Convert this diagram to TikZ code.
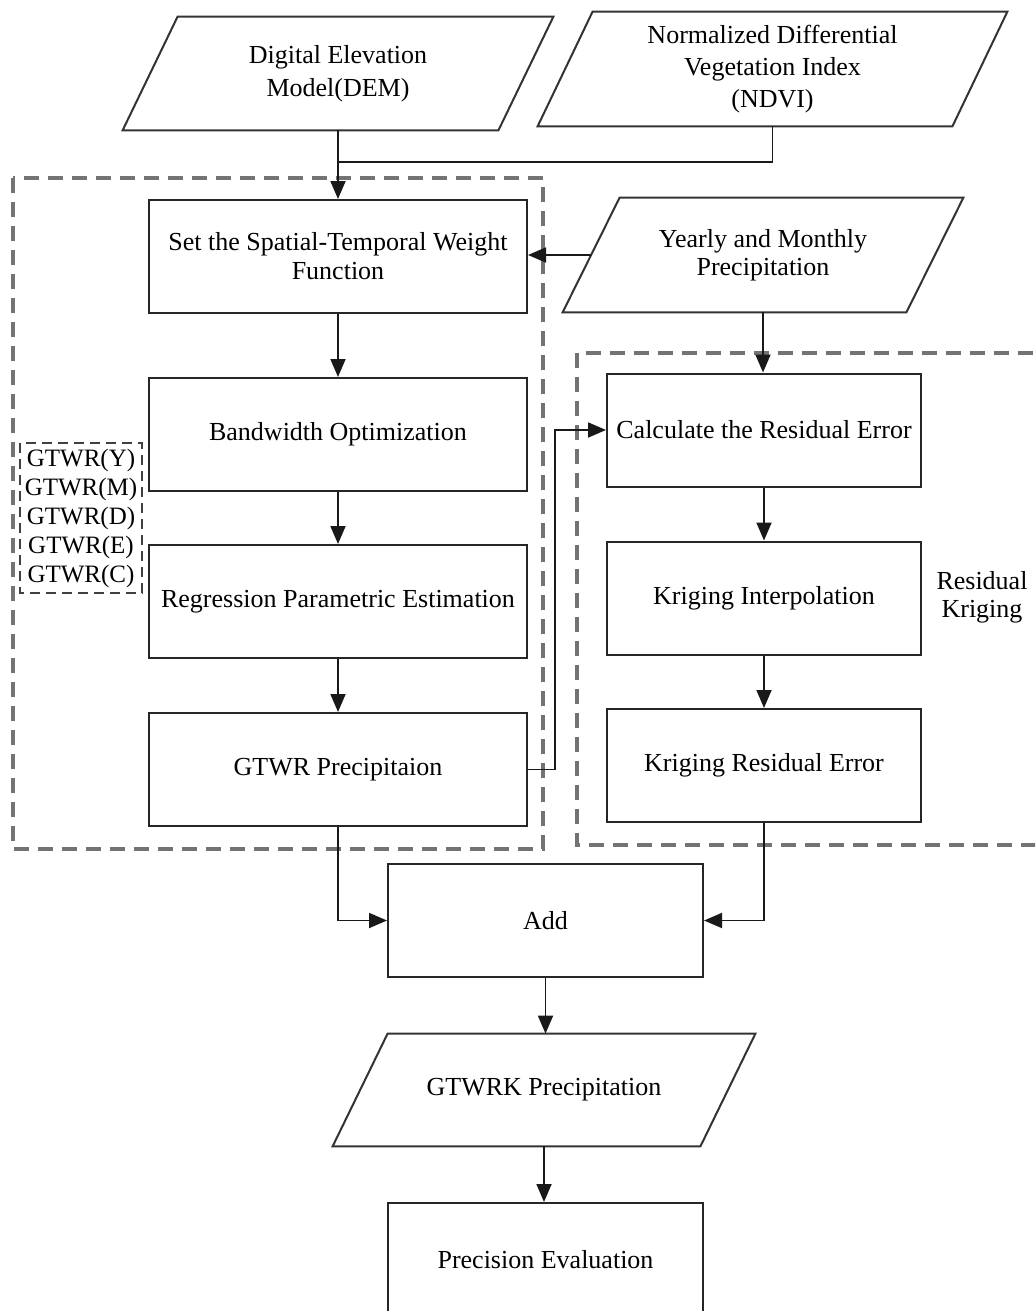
\documentclass[tikz,border=0pt]{standalone}
\usepackage{fontspec}
\setmainfont{Liberation Serif}
\usetikzlibrary{arrows.meta,calc}
\begin{document}
\begin{tikzpicture}[x=0.5pt,y=-0.5pt,
  font=\fontsize{13}{14.5}\selectfont,
  boxstyle/.style={draw=black!85,line width=1pt,minimum width=#1,minimum height=56.5pt,align=center,inner sep=1pt},
  boxstyle/.default=189pt,
  para/.style={draw=none,align=center,inner sep=0pt},
  paraline/.style={draw=black!80,line width=1pt},
  arr/.style={draw=black!90,line width=0.9pt,-{Triangle[length=9pt,width=7.5pt]}},
  conn/.style={draw=black!90,line width=0.9pt},
  bigdash/.style={draw=black!55,line width=1.6pt,dash pattern=on 7.5pt off 4.5pt},
  smalldash/.style={draw=black!75,line width=1pt,dash pattern=on 5pt off 3pt}]
\useasboundingbox (0,0) rectangle (1035,1311);
\clip (0,0) rectangle (1035,1311);

% dashed containers
\draw[bigdash] (13,178) rectangle (543,849);
\draw[bigdash] (577,353) rectangle (1045,845);
\draw[smalldash] (20,443) rectangle (142,593);

% parallelogram inputs
\node[para,minimum width=215pt,minimum height=56.5pt,font=\fontsize{13}{16.5}\selectfont] (dem) at (338,73.5) {Digital Elevation\\Model(DEM)};
\draw[paraline] ($(dem.north west)+(55,0)$) -- (dem.north east) -- ($(dem.south east)+(-55,0)$) -- (dem.south west) -- cycle;

\node[para,minimum width=234.5pt,minimum height=57pt,font=\fontsize{13}{16}\selectfont] (ndvi) at (772.5,69) {Normalized Differential\\Vegetation Index\\(NDVI)};
\draw[paraline] ($(ndvi.north west)+(55,0)$) -- (ndvi.north east) -- ($(ndvi.south east)+(-55,0)$) -- (ndvi.south west) -- cycle;

\node[para,minimum width=200pt,minimum height=57pt,font=\fontsize{13}{14}\selectfont] (yearly) at (763,255) {Yearly and Monthly\\Precipitation};
\draw[paraline] ($(yearly.north west)+(57,0)$) -- (yearly.north east) -- ($(yearly.south east)+(-57,0)$) -- (yearly.south west) -- cycle;

\node[para,minimum width=211pt,minimum height=56pt] (gtwrk) at (544,1090) {GTWRK Precipitation};
\draw[paraline] ($(gtwrk.north west)+(55,0)$) -- (gtwrk.north east) -- ($(gtwrk.south east)+(-55,0)$) -- (gtwrk.south west) -- cycle;

% left column
\node[boxstyle] (b1) at (338,256.5) {Set the Spatial-Temporal Weight\\Function};
\node[boxstyle] (b2) at (338,434.5) {Bandwidth Optimization};
\node[boxstyle] (b3) at (338,601.5) {Regression Parametric Estimation};
\node[boxstyle] (b4) at (338,769.5) {GTWR Precipitaion};

% right column
\node[boxstyle=157pt] (b5) at (764,430) {Calculate the Residual Error};
\node[boxstyle=157pt] (b6) at (764,598) {Kriging Interpolation};
\node[boxstyle=157pt] (b7) at (764,765.5) {Kriging Residual Error};

\node[boxstyle=157.5pt] (add) at (545.5,920.5) {Add};
\node[boxstyle=157.5pt] (prec) at (545.5,1259.5) {Precision Evaluation};

% labels
\node[align=center,inner sep=0pt,font=\fontsize{13}{14}\selectfont] (rk) at (982,597) {Residual\\Kriging};
\node[align=center,inner sep=0pt,font=\fontsize{12.5}{14.5}\selectfont] (list) at (81,518) {GTWR(Y)\\GTWR(M)\\GTWR(D)\\GTWR(E)\\GTWR(C)};

% connectors
\coordinate (j1) at (338,162);
\draw[conn] (ndvi.south) |- (j1);
\draw[arr] (dem.south) -- (b1.north);
\coordinate (yl) at ($(yearly.west)+(28.5,0)$);
\draw[arr] (yl) -- (yl -| b1.east);
\draw[arr] (yearly.south) -- (yearly.south |- b5.north);
\draw[arr] (b1) -- (b2);
\draw[arr] (b2) -- (b3);
\draw[arr] (b3) -- (b4);
\draw[arr] (b5) -- (b6);
\draw[arr] (b6) -- (b7);
\draw[arr] (b4.east) -- ($(b4.east)+(27,0)$) |- (b5.west);
\draw[arr] (b4.south) |- (add.west);
\draw[arr] (b7.south) |- (add.east);
\draw[arr] (add.south) -- (add.south |- gtwrk.north);
\draw[arr] (gtwrk.south) -- (gtwrk.south |- prec.north);
\end{tikzpicture}
\end{document}
